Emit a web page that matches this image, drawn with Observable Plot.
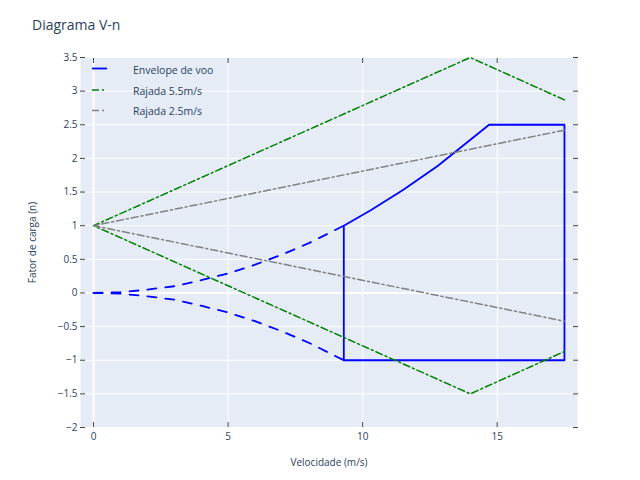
<!DOCTYPE html>
<html>
<head>
<meta charset="utf-8">
<script src="https://cdn.jsdelivr.net/npm/d3@7"></script>
<script src="https://cdn.jsdelivr.net/npm/@observablehq/plot@0.6"></script>
<style>
  body { margin: 0; background: white; font-family: "Open Sans", sans-serif; }
  #wrap { position: relative; width: 640px; height: 480px; }
  #title { position: absolute; left: 32px; top: 15px; font-size: 14px; color: #2a3f5f; }
  #legend { position: absolute; left: 92px; top: 60px; font-size: 10.5px; color: #2a3f5f; }
  .item { position: relative; height: 20.5px; }
  .item svg { position: absolute; left: 0; top: 0; }
  .item span { position: absolute; left: 41px; top: 3px; white-space: nowrap; }
</style>
</head>
<body>
<div id="wrap">
  <div id="title">Diagrama V-n</div>
  <div id="legend"></div>
</div>
<script>
// ---- data ----
const xTicks = [0, 5, 10, 15];
const yTicks = [-2, -1.5, -1, -0.5, 0, 0.5, 1, 1.5, 2, 2.5, 3, 3.5];

// stall curves (dashed), from V = 0 to stall speed
const stallV    = [0, 1, 2, 3, 4, 5, 6, 7, 8, 9, 9.3];
const stallNpos = [0, 0.01, 0.05, 0.10, 0.19, 0.29, 0.42, 0.57, 0.74, 0.94, 1];
const stallNneg = [0, -0.01, -0.05, -0.10, -0.19, -0.29, -0.42, -0.57, -0.74, -0.94, -1];

// flight envelope (solid)
const envV = [9.3, 10.3, 11.5, 12.8, 14.7, 17.5, 17.5, 9.3, 9.3];
const envN = [1, 1.23, 1.53, 1.89, 2.5, 2.5, -1, -1, 1];

// gust lines
const gust55V = [17.5, 14, 0, 14, 17.5];
const gust55N = [2.87, 3.5, 1, -1.5, -0.87];
const gust25V = [17.5, 0, 17.5];
const gust25N = [2.42, 1, -0.42];

const seriesNames = ["Envelope de voo", "Rajada 5.5m/s", "Rajada 2.5m/s"];
const seriesColors = ["blue", "green", "grey"];

// ---- tables ----
const zip = (xs, ys) => xs.map((x, i) => ({x, y: ys[i]}));
const stallPos = zip(stallV, stallNpos);
const stallNeg = zip(stallV, stallNneg);
const env = zip(envV, envN);
const g55 = zip(gust55V, gust55N);
const g25 = zip(gust25V, gust25N);

const fmt = d3.format("~g");
const dashdot = "7,3,2,3";
const blueW = 1.8;

const chart = Plot.plot({
  width: 640,
  height: 480,
  marginLeft: 80,
  marginRight: 63,
  marginTop: 57,
  marginBottom: 53,
  style: {fontFamily: "Open Sans", fontSize: "10px", background: "transparent"},
  x: {domain: [-0.485, 17.985]},
  y: {domain: [-2, 3.5]},
  marks: [
    Plot.frame({fill: "#E5ECF6", stroke: null}),
    Plot.gridX({ticks: xTicks, stroke: "white", strokeOpacity: 1, strokeWidth: 1}),
    Plot.gridY({ticks: yTicks, stroke: "white", strokeOpacity: 1, strokeWidth: 1}),
    Plot.ruleX([0], {stroke: "white", strokeWidth: 2}),
    Plot.ruleY([0], {stroke: "white", strokeWidth: 2}),
    Plot.axisX({anchor: "bottom", ticks: xTicks, tickSize: -5, tickPadding: 10, tickFormat: fmt,
      stroke: "#444", fill: "#2a3f5f",
      label: "Velocidade (m/s)", labelAnchor: "center", labelArrow: "none", labelOffset: 38}),
    Plot.axisX({anchor: "top", ticks: xTicks, tickSize: -5, tickFormat: () => "", label: null, stroke: "#444"}),
    Plot.axisY({anchor: "left", ticks: yTicks, tickSize: -5, tickPadding: 8, tickFormat: fmt,
      stroke: "#444", fill: "#2a3f5f",
      label: "Fator de carga (n)", labelAnchor: "center", labelArrow: "none", labelOffset: 52}),
    Plot.axisY({anchor: "right", ticks: yTicks, tickSize: -5, tickFormat: () => "", label: null, stroke: "#444"}),
    Plot.line(stallPos, {x: "x", y: "y", stroke: seriesColors[0], strokeWidth: blueW, strokeDasharray: "9,9"}),
    Plot.line(stallNeg, {x: "x", y: "y", stroke: seriesColors[0], strokeWidth: blueW, strokeDasharray: "9,9"}),
    Plot.line(env, {x: "x", y: "y", stroke: seriesColors[0], strokeWidth: blueW}),
    Plot.line(g55, {x: "x", y: "y", stroke: seriesColors[1], strokeWidth: 1.5, strokeDasharray: dashdot}),
    Plot.line(g25, {x: "x", y: "y", stroke: seriesColors[2], strokeWidth: 1.5, strokeDasharray: dashdot})
  ]
});
chart.style.position = "absolute";
chart.style.left = "0";
chart.style.top = "0";
const wrap = document.getElementById("wrap");
wrap.insertBefore(chart, wrap.firstChild);

// legend
const legend = document.getElementById("legend");
const dashes = [null, dashdot, dashdot];
const widths = [blueW, 1.5, 1.5];
seriesNames.forEach((name, i) => {
  const div = document.createElement("div");
  div.className = "item";
  div.innerHTML = `<svg width="20" height="20"><line x1="0" x2="15" y1="${8.5 + i * 0.5}" y2="${8.5 + i * 0.5}" stroke="${seriesColors[i]}" stroke-width="${widths[i]}" ${dashes[i] ? `stroke-dasharray="${dashes[i]}"` : ""}/></svg><span>${name}</span>`;
  legend.appendChild(div);
});
</script>
</body>
</html>
